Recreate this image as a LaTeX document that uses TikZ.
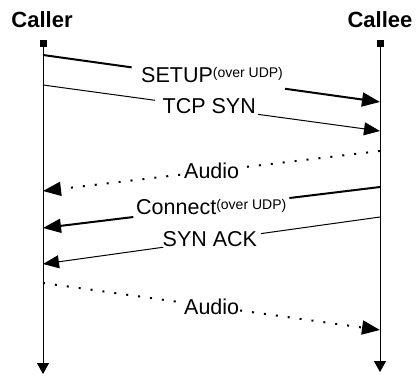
\documentclass[tikz,border=0pt]{standalone}
\usepackage{fontspec}
\setmainfont{Liberation Sans}
\usetikzlibrary{arrows.meta,calc}
\newcommand{\overudp}{\raisebox{5pt}{\fontsize{14}{14}\selectfont (over UDP)}}
\begin{document}
\begin{tikzpicture}[x=1pt,y=-1pt,
  party/.style={font=\bfseries\fontsize{22}{22}\selectfont, anchor=base, inner sep=0pt},
  lbl/.style={font=\fontsize{21.5}{21.5}\selectfont, anchor=base west, inner sep=0pt},
  headsq/.style={fill=black, minimum size=7pt, inner sep=0pt},
  lifeline/.style={line width=1pt, -{Triangle[length=11pt,width=12pt]}},
  thickmsg/.style={line width=2pt},
  thinmsg/.style={line width=1pt},
  dotmsg/.style={line width=2pt, dash pattern=on 2pt off 10pt},
  bigtip/.style={-{Triangle[length=18pt,width=14pt]}},
  smalltip/.style={-{Triangle[length=16pt,width=13pt]}}]
\useasboundingbox (0,0) rectangle (417,375);
% parties
\node[party] (caller) at (42,27) {Caller};
\node[party] (callee) at (380,27) {Callee};
\node[headsq] (sq1) at (43,43) {};
\node[headsq] (sq2) at (380,43) {};
\coordinate (end1) at (43,374);
\coordinate (end2) at (380,372);
\draw[lifeline] (sq1) -- (end1);
\draw[lifeline] (sq2) -- (end2);
% message end points
\coordinate (s1) at (43,55);   \coordinate (e1) at (380,102);
\coordinate (s2) at (43,85);   \coordinate (e2) at (380,131);
\coordinate (s3) at (380,151); \coordinate (e3) at (43,191);
\coordinate (s4) at (380,187); \coordinate (e4) at (43,228);
\coordinate (s5) at (380,217); \coordinate (e5) at (43,264);
\coordinate (s6) at (43,283);  \coordinate (e6) at (380,330);
% SETUP
\draw[thickmsg] (s1) -- ($(s1)!0.263!(e1)$);
\draw[thickmsg,bigtip] ($(s1)!0.718!(e1)$) -- (e1);
\node[lbl] (l1) at (141,82.7) {SETUP\overudp};
% TCP SYN
\draw[thinmsg] (s2) -- ($(s2)!0.332!(e2)$);
\draw[thinmsg,smalltip] ($(s2)!0.638!(e2)$) -- (e2);
\node[lbl] (l2) at (162.5,113.3) {TCP SYN};
% Audio
\draw[dotmsg] (s3) -- ($(s3)!0.407!(e3)$);
\draw[dotmsg,bigtip] ($(s3)!0.593!(e3)$) -- (e3);
\node[lbl] (l3) at (184,178.3) {Audio};
% Connect
\draw[thickmsg] (s4) -- ($(s4)!0.269!(e4)$);
\draw[thickmsg,bigtip] ($(s4)!0.732!(e4)$) -- (e4);
\node[lbl] (l4) at (136,214.3) {Connect\overudp};
% SYN ACK
\draw[thinmsg] (s5) -- ($(s5)!0.353!(e5)$);
\draw[thinmsg,smalltip] ($(s5)!0.643!(e5)$) -- (e5);
\node[lbl] (l5) at (162.5,246) {SYN ACK};
% Audio
\draw[dotmsg] (s6) -- ($(s6)!0.412!(e6)$);
\draw[dotmsg,bigtip] ($(s6)!0.585!(e6)$) -- (e6);
\node[lbl] (l6) at (184,314) {Audio};
\end{tikzpicture}
\end{document}
